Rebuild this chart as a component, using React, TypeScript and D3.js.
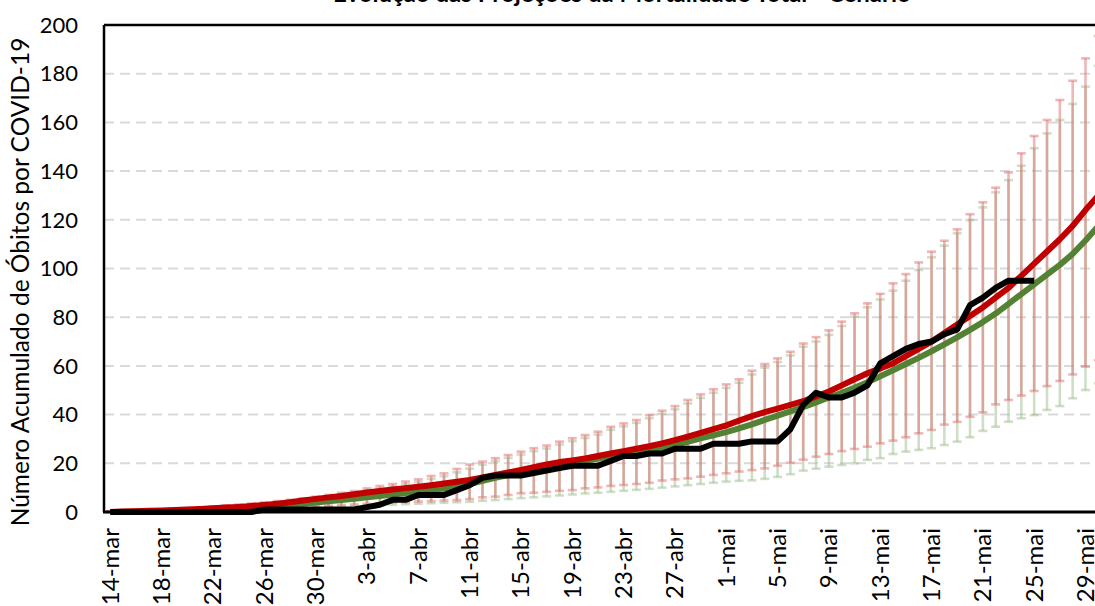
import React, { useEffect, useRef } from 'react'
import * as d3 from 'd3'

// dias de 14-mar a 31-mai
const monthNames = ['jan', 'fev', 'mar', 'abr', 'mai', 'jun']
const categories = d3.timeDay
  .range(new Date(2020, 2, 14), new Date(2020, 5, 1))
  .map(d => `${d.getDate()}-${monthNames[d.getMonth()]}`)

const tickLabels = [
  '14-mar', '18-mar', '22-mar', '26-mar', '30-mar', '3-abr', '7-abr', '11-abr',
  '15-abr', '19-abr', '23-abr', '27-abr', '1-mai', '5-mai', '9-mai', '13-mai',
  '17-mai', '21-mai', '25-mai', '29-mai',
]
const yTicks = [0, 20, 40, 60, 80, 100, 120, 140, 160, 180, 200]

// projeção 1 (vermelho)
const redMid = [
  0, 0.2, 0.3, 0.5, 0.6, 0.8, 1.0, 1.2, 1.5, 1.8,
  2.1, 2.5, 2.9, 3.4, 4.0, 4.7, 5.4, 6.0, 6.6, 7.3,
  8.0, 8.6, 9.2, 9.8, 10.4, 11.0, 11.7, 12.4, 13.2, 14.2,
  15.2, 16.2, 17.3, 18.4, 19.5, 20.5, 21.2, 22.0, 23.0, 24.0,
  25.0, 26.0, 27.0, 28.2, 29.5, 31.0, 32.5, 34.0, 35.6, 37.5,
  39.4, 41.0, 42.5, 44.0, 45.5, 47.5, 49.5, 52.0, 54.5, 57.0,
  59.0, 61.0, 64.0, 67.0, 70.0, 73.5, 77.0, 80.5, 84.0, 88.0,
  92.0, 97.0, 102.0, 107.0, 112.0, 117.5, 124.0, 130.0, 136.0,
]
const redHigh = [
  0.2, 0.4, 0.6, 0.8, 1.0, 1.3, 1.6, 1.9, 2.3, 2.7,
  3.1, 3.5, 4.0, 4.5, 5.0, 5.6, 6.3, 7.0, 7.9, 8.6,
  9.7, 10.7, 11.5, 12.5, 13.4, 14.8, 15.9, 17.7, 19.5, 20.7,
  22.1, 23.4, 24.8, 26.2, 27.3, 28.9, 30.3, 31.6, 33.0, 35.0,
  36.4, 37.8, 39.8, 41.6, 43.5, 46.0, 48.3, 50.4, 52.4, 54.5,
  58.0, 60.8, 63.1, 65.8, 69.2, 71.8, 74.6, 78.2, 81.6, 85.7,
  89.6, 93.9, 97.7, 102.5, 106.9, 111.4, 116.1, 122.3, 127.2, 133.2,
  139.5, 147.3, 154.4, 161.0, 169.2, 177.1, 186.3, 195.5, 205.0,
]
const redLow = [
  0, 0, 0.1, 0.1, 0.2, 0.3, 0.4, 0.5, 0.6, 0.8,
  1.0, 1.2, 1.4, 1.6, 1.9, 2.1, 2.4, 2.6, 2.9, 3.1,
  3.4, 3.6, 3.9, 4.1, 4.3, 4.5, 4.7, 4.9, 5.3, 6.0,
  6.3, 7.0, 7.7, 7.9, 8.3, 8.7, 9.0, 9.7, 10.1, 10.7,
  11.1, 11.5, 12.0, 12.9, 13.4, 13.8, 14.5, 15.2, 15.9, 16.6,
  17.2, 17.9, 19.0, 20.2, 21.5, 22.7, 23.8, 25.0, 25.9, 26.8,
  28.2, 29.3, 30.7, 32.3, 33.7, 35.9, 37.0, 39.1, 40.9, 44.2,
  46.0, 47.8, 49.7, 51.7, 53.8, 56.5, 59.7, 62.4, 66.0,
]

// projeção 2 (verde)
const greenMid = [
  0, 0.1, 0.2, 0.3, 0.4, 0.5, 0.7, 0.9, 1.1, 1.3,
  1.6, 1.9, 2.2, 2.6, 3.0, 3.4, 3.9, 4.4, 4.9, 5.4,
  6.0, 6.6, 7.2, 7.8, 8.4, 9.0, 9.6, 10.5, 11.5, 12.8,
  14.0, 15.2, 16.2, 17.2, 18.3, 19.3, 20.2, 21.0, 22.0, 23.0,
  24.0, 24.8, 25.5, 26.5, 27.5, 28.8, 30.2, 31.5, 32.8, 34.3,
  36.0, 37.8, 39.6, 41.3, 43.0, 45.0, 47.0, 49.0, 51.0, 53.3,
  55.7, 58.2, 60.8, 63.3, 66.0, 68.8, 71.7, 74.8, 78.0, 81.5,
  85.5, 89.5, 93.5, 97.5, 101.5, 106.0, 111.5, 117.5, 123.5,
]
const greenHigh = [
  0.1, 0.3, 0.5, 0.7, 0.9, 1.1, 1.4, 1.7, 2.0, 2.4,
  2.8, 3.2, 3.6, 4.1, 4.6, 5.1, 5.7, 6.3, 7.1, 7.8,
  8.8, 9.7, 10.5, 11.4, 12.3, 13.6, 14.7, 16.3, 17.8, 19.5,
  20.9, 22.2, 23.6, 25.0, 26.1, 27.7, 29.1, 30.4, 31.8, 33.8,
  35.2, 36.6, 38.5, 40.3, 42.2, 44.6, 46.9, 49.0, 51.0, 53.1,
  56.5, 59.3, 61.6, 64.3, 67.9, 70.0, 72.7, 76.4, 80.2, 84.1,
  87.3, 90.9, 95.0, 99.4, 104.6, 109.4, 114.5, 119.9, 125.1, 131.3,
  136.3, 142.2, 149.4, 155.5, 161.0, 167.6, 174.7, 183.2, 192.0,
]
const greenLow = [
  0, 0, 0, 0.1, 0.1, 0.2, 0.3, 0.3, 0.4, 0.5,
  0.7, 0.8, 1.0, 1.2, 1.4, 1.6, 1.8, 2.0, 2.2, 2.4,
  2.6, 2.8, 3.0, 3.2, 3.4, 3.6, 3.8, 4.0, 4.2, 4.6,
  4.9, 5.3, 5.7, 6.0, 6.4, 6.8, 7.2, 7.6, 7.9, 8.3,
  8.7, 9.1, 9.5, 10.0, 10.5, 11.0, 11.5, 12.0, 12.5, 12.8,
  13.0, 13.6, 14.4, 15.5, 17.0, 17.8, 18.6, 19.3, 20.0, 21.4,
  22.1, 23.8, 24.8, 25.5, 26.2, 27.5, 28.9, 30.7, 33.3, 35.0,
  37.1, 38.5, 39.8, 41.9, 43.5, 46.7, 50.1, 52.9, 56.0,
]

// óbitos observados (14-mar a 25-mai)
const observed = [
  0, 0, 0, 0, 0, 0, 0, 0, 0, 0,
  0, 0, 1, 1, 1, 1, 1, 1, 1, 1,
  2, 3, 5, 5, 7, 7, 7, 9, 11, 14,
  15, 15, 15, 16, 17, 18, 19, 19, 19, 21,
  23, 23, 24, 24, 26, 26, 26, 28, 28, 28,
  29, 29, 29, 34, 44, 49, 47, 47, 49, 52,
  61, 64, 67, 69, 70, 73, 75, 85, 88, 92,
  95, 95, 95,
]

const FONT = 'Lato, "Noto Sans", sans-serif'

export default function App() {
  const ref = useRef<SVGSVGElement>(null)

  useEffect(() => {
    const svg = d3.select(ref.current)
    svg.selectAll('*').remove()

    const left = 104
    const top = 25
    const bottom = 512
    const step = 12.83

    const x = d3.scaleBand()
      .domain(categories)
      .range([left, left + categories.length * step])
      .padding(0)
    const cx = (c: string) => (x(c) as number) + x.bandwidth() / 2

    const y = d3.scaleLinear().domain([0, 200]).range([bottom, top])

    // grelha
    svg.append('g')
      .selectAll('line')
      .data(yTicks.filter(t => t > 0 && t < 200))
      .join('line')
      .attr('x1', left)
      .attr('x2', 1095)
      .attr('y1', d => y(d))
      .attr('y2', d => y(d))
      .attr('stroke', '#d9d9d9')
      .attr('stroke-width', 2)
      .attr('stroke-dasharray', '10,6')

    // barras de erro
    const errBars = (low: number[], high: number[], color: string, op: number) => {
      const g = svg.append('g').attr('stroke', color).attr('stroke-opacity', op).attr('stroke-width', 2.6)
      categories.forEach((c, i) => {
        const xx = cx(c)
        g.append('line').attr('x1', xx).attr('x2', xx).attr('y1', y(low[i])).attr('y2', y(high[i]))
        g.append('line').attr('x1', xx - 4.5).attr('x2', xx + 4.5).attr('y1', y(high[i])).attr('y2', y(high[i]))
        g.append('line').attr('x1', xx - 4.5).attr('x2', xx + 4.5).attr('y1', y(low[i])).attr('y2', y(low[i]))
      })
    }
    errBars(greenLow, greenHigh, '#a0c090', 0.5)
    errBars(redLow, redHigh, '#e07070', 0.5)

    const line = d3.line<number>()
      .x((d, i) => cx(categories[i]))
      .y(d => y(d))

    const drawLine = (vals: number[], color: string, w: number) =>
      svg.append('path')
        .datum(vals)
        .attr('d', line)
        .attr('fill', 'none')
        .attr('stroke', color)
        .attr('stroke-width', w)
        .attr('stroke-linejoin', 'round')

    drawLine(greenMid, '#548235', 6)
    drawLine(redMid, '#c00000', 6)
    drawLine(observed, '#000000', 6)

    // eixos / moldura
    svg.append('line').attr('x1', left).attr('x2', 1095).attr('y1', top).attr('y2', top)
      .attr('stroke', '#000').attr('stroke-width', 2.5)
    svg.append('line').attr('x1', left).attr('x2', left).attr('y1', top).attr('y2', bottom)
      .attr('stroke', '#000').attr('stroke-width', 2.5)
    svg.append('line').attr('x1', left - 1).attr('x2', 1095).attr('y1', bottom).attr('y2', bottom)
      .attr('stroke', '#000').attr('stroke-width', 3)

    svg.append('g')
      .selectAll('text')
      .data(yTicks)
      .join('text')
      .attr('x', 78)
      .attr('y', d => y(d))
      .attr('dy', '0.35em')
      .attr('text-anchor', 'end')
      .attr('font-family', FONT)
      .attr('font-size', 22)
      .attr('fill', '#000')
      .text(d => d)

    svg.append('g')
      .selectAll('text')
      .data(tickLabels)
      .join('text')
      .attr('transform', d => `translate(${cx(d)},528) rotate(-90)`)
      .attr('dy', '0.35em')
      .attr('text-anchor', 'end')
      .attr('font-family', FONT)
      .attr('font-size', 24)
      .attr('fill', '#000')
      .text(d => d)

    svg.append('text')
      .attr('transform', 'translate(20,282) rotate(-90)')
      .attr('dy', '0.35em')
      .attr('text-anchor', 'middle')
      .attr('font-family', FONT)
      .attr('font-size', 24.5)
      .attr('fill', '#000')
      .text('Número Acumulado de Óbitos por COVID-19')

    svg.append('text')
      .attr('x', 622)
      .attr('y', 2)
      .attr('text-anchor', 'middle')
      .attr('font-family', FONT)
      .attr('font-weight', 'bold')
      .attr('font-size', 24)
      .attr('fill', '#000')
      .text('Evolução das Projeções da Mortalidade Total - Cenário')
  }, [])

  return (
    <svg
      ref={ref}
      width={1095}
      height={606}
      style={{ position: 'absolute', left: 0, top: 0, background: '#fff' }}
    />
  )
}
